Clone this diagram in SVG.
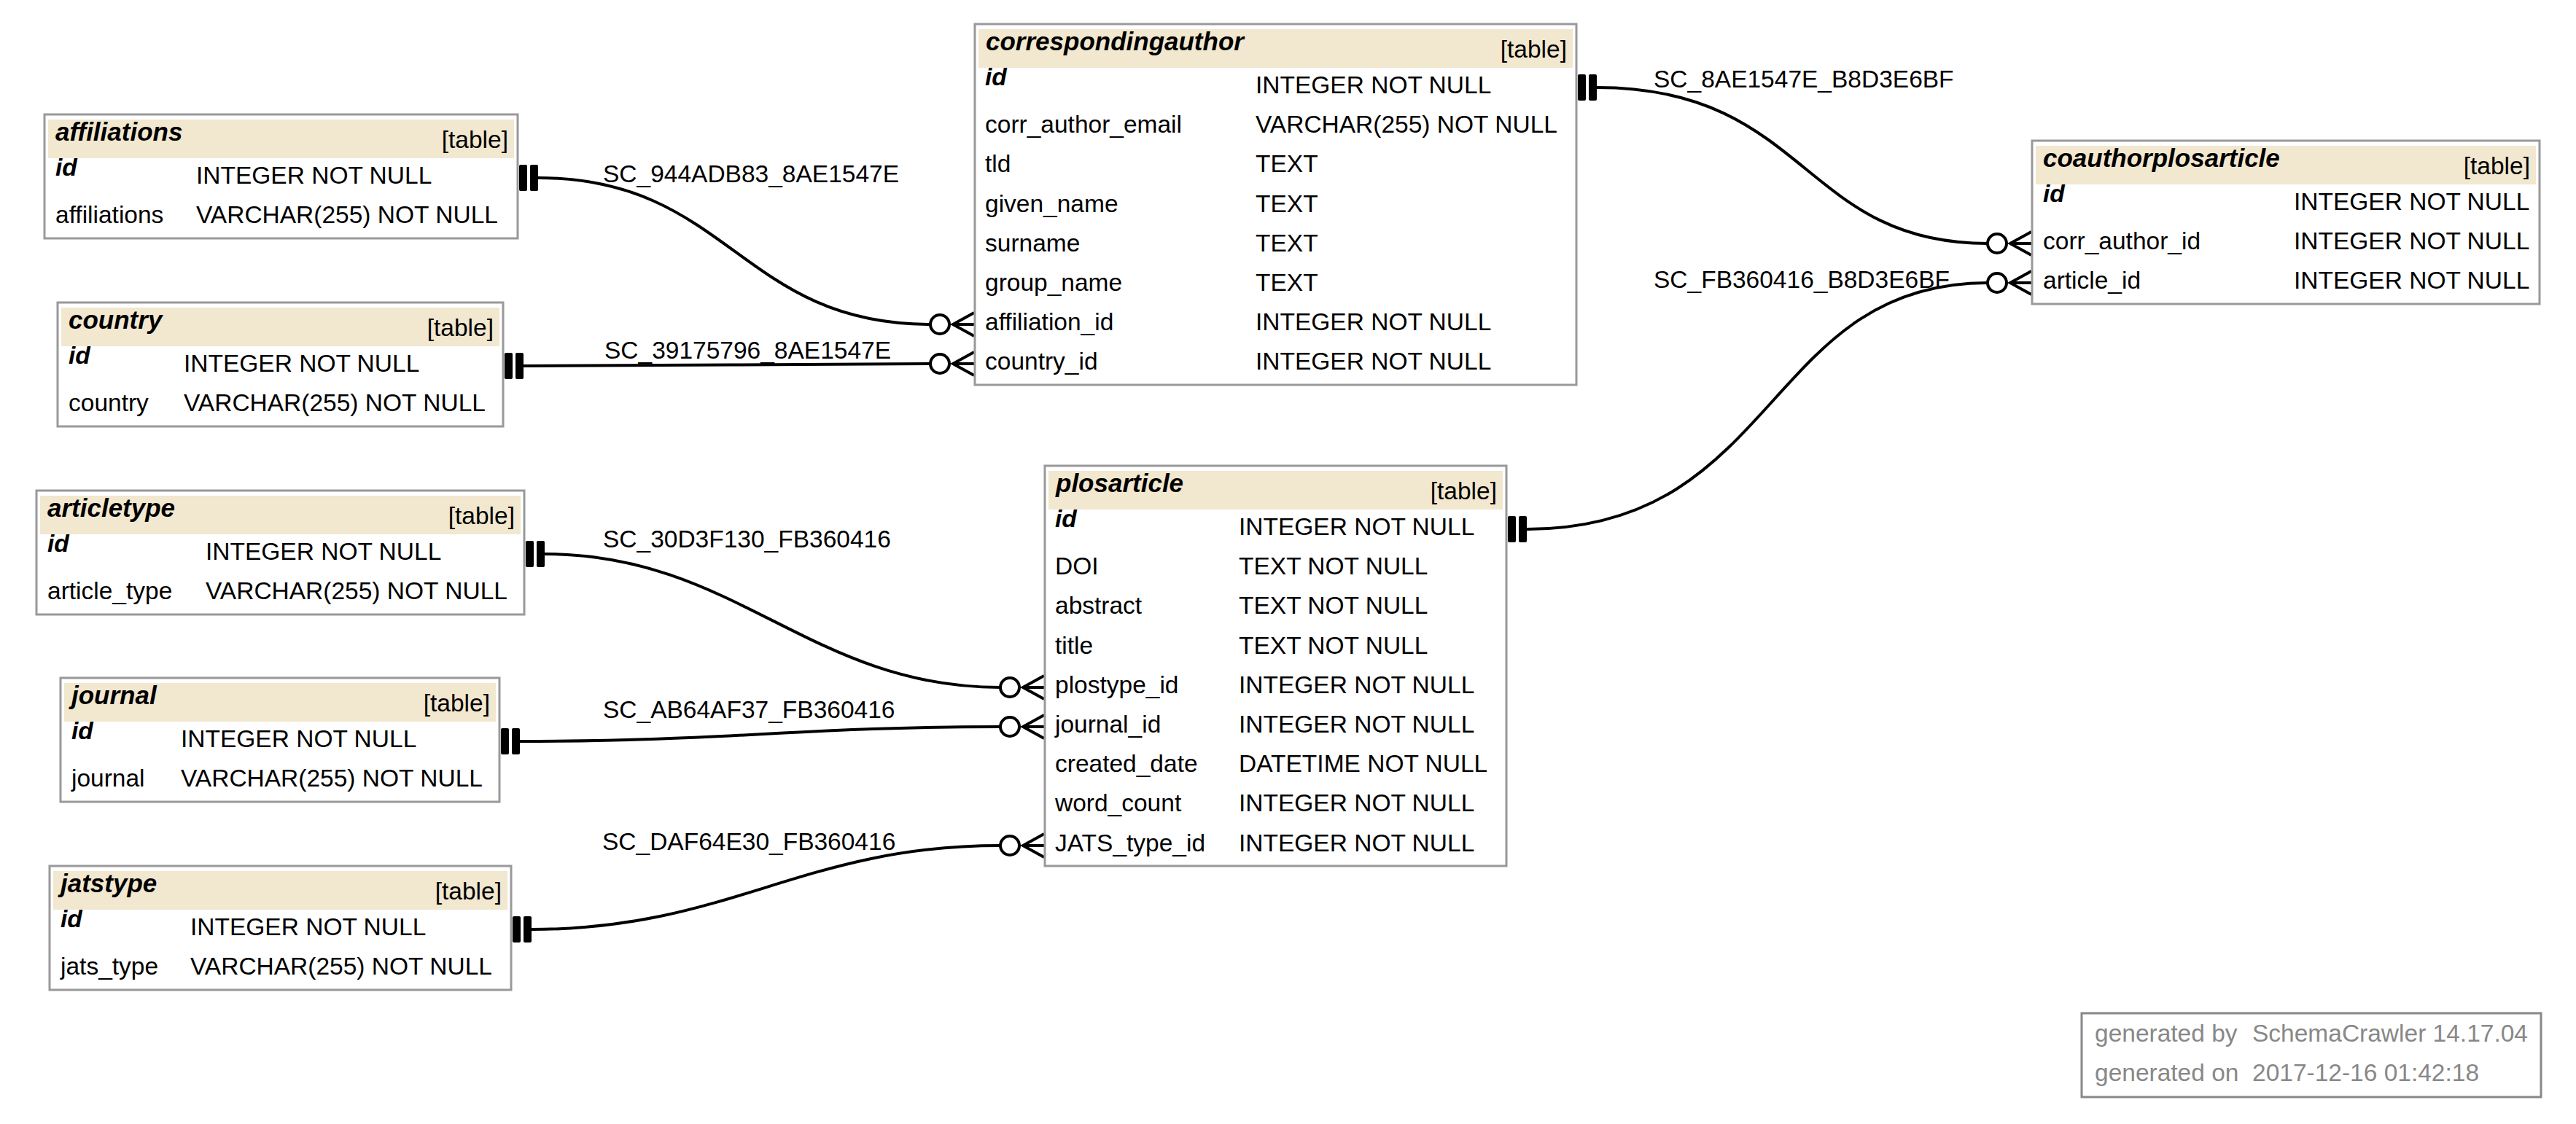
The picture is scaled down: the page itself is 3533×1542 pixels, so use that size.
<svg xmlns="http://www.w3.org/2000/svg" width="3533" height="1542" viewBox="0 0 3533 1542">
<style>
.bg{fill:#fff}
.box{fill:#fff;stroke:#999;stroke-width:3}
.hdr{fill:#F2E7CF}
text{font-family:"Liberation Sans",Arial,sans-serif;font-size:33.5px;fill:#000}
.b{font-weight:bold;font-style:italic}
.tt{font-size:35px}
.r{text-anchor:end}
.edge{fill:none;stroke:#000;stroke-width:4}
.bar{fill:#000}
.o{fill:#fff;stroke:#000;stroke-width:4}
.cf{fill:none;stroke:#000;stroke-width:4}
.foot{fill:#888}
.fbox{fill:#fff;stroke:#888;stroke-width:3}
</style>
<rect class="bg" x="0" y="0" width="3533" height="1542"/>

<g id="connectors">
  <g id="SC_944ADB83_8AE1547E">
    <path class="edge" d="M738,244 C1000,244 1015,445 1276,445"/>
    <rect class="bar" x="712" y="226" width="11" height="36" rx="2"/>
    <rect class="bar" x="727" y="226" width="11" height="36" rx="2"/>
    <circle class="o" cx="1289" cy="445" r="13"/>
    <path class="cf" d="M1336,429 L1307,445 L1336,461 M1307,445 L1336,445"/>
    <text x="827" y="250">SC_944ADB83_8AE1547E</text>
  </g>
  <g id="SC_39175796_8AE1547E">
    <path class="edge" d="M718,502 C1000,502 1000,499 1276,499"/>
    <rect class="bar" x="692" y="484" width="11" height="36" rx="2"/>
    <rect class="bar" x="707" y="484" width="11" height="36" rx="2"/>
    <circle class="o" cx="1289" cy="499" r="13"/>
    <path class="cf" d="M1336,483 L1307,499 L1336,515 M1307,499 L1336,499"/>
    <text x="829" y="492">SC_39175796_8AE1547E</text>
  </g>
  <g id="SC_30D3F130_FB360416">
    <path class="edge" d="M747,760 C1010,760 1110,943 1372,943"/>
    <rect class="bar" x="721" y="742" width="11" height="36" rx="2"/>
    <rect class="bar" x="736" y="742" width="11" height="36" rx="2"/>
    <circle class="o" cx="1385" cy="943" r="13"/>
    <path class="cf" d="M1432,927 L1403,943 L1432,959 M1403,943 L1432,943"/>
    <text x="827" y="751">SC_30D3F130_FB360416</text>
  </g>
  <g id="SC_AB64AF37_FB360416">
    <path class="edge" d="M713,1017 C1000,1017 1100,997 1372,997"/>
    <rect class="bar" x="687" y="999" width="11" height="36" rx="2"/>
    <rect class="bar" x="702" y="999" width="11" height="36" rx="2"/>
    <circle class="o" cx="1385" cy="997" r="13"/>
    <path class="cf" d="M1432,981 L1403,997 L1432,1013 M1403,997 L1432,997"/>
    <text x="827" y="985">SC_AB64AF37_FB360416</text>
  </g>
  <g id="SC_DAF64E30_FB360416">
    <path class="edge" d="M729,1275 C1000,1275 1100,1160 1372,1160"/>
    <rect class="bar" x="703" y="1257" width="11" height="36" rx="2"/>
    <rect class="bar" x="718" y="1257" width="11" height="36" rx="2"/>
    <circle class="o" cx="1385" cy="1160" r="13"/>
    <path class="cf" d="M1432,1144 L1403,1160 L1432,1176 M1403,1160 L1432,1160"/>
    <text x="826" y="1166">SC_DAF64E30_FB360416</text>
  </g>
  <g id="SC_8AE1547E_B8D3E6BF">
    <path class="edge" d="M2190,120 C2480,120 2470,334 2726,334"/>
    <rect class="bar" x="2164" y="102" width="11" height="36" rx="2"/>
    <rect class="bar" x="2179" y="102" width="11" height="36" rx="2"/>
    <circle class="o" cx="2739" cy="334" r="13"/>
    <path class="cf" d="M2786,318 L2757,334 L2786,350 M2757,334 L2786,334"/>
    <text x="2268" y="120">SC_8AE1547E_B8D3E6BF</text>
  </g>
  <g id="SC_FB360416_B8D3E6BF">
    <path class="edge" d="M2094,726 C2440,726 2420,388 2726,388"/>
    <rect class="bar" x="2068" y="708" width="11" height="36" rx="2"/>
    <rect class="bar" x="2083" y="708" width="11" height="36" rx="2"/>
    <circle class="o" cx="2739" cy="388" r="13"/>
    <path class="cf" d="M2786,372 L2757,388 L2786,404 M2757,388 L2786,388"/>
    <text x="2268" y="395">SC_FB360416_B8D3E6BF</text>
  </g>
</g>

<g id="affiliations">
  <rect class="box" x="61" y="157" width="649" height="170"/>
  <rect class="hdr" x="66" y="164" width="639" height="53"/>
  <text class="b tt" x="76" y="193">affiliations</text>
  <text class="r" x="697" y="203">[table]</text>
  <text class="b" x="76" y="241">id</text>
  <text x="269" y="252">INTEGER NOT NULL</text>
  <text x="76" y="306">affiliations</text>
  <text x="269" y="306">VARCHAR(255) NOT NULL</text>
</g>

<g id="country">
  <rect class="box" x="79" y="415" width="611" height="170"/>
  <rect class="hdr" x="84" y="422" width="601" height="53"/>
  <text class="b tt" x="94" y="451">country</text>
  <text class="r" x="677" y="461">[table]</text>
  <text class="b" x="94" y="499">id</text>
  <text x="252" y="510">INTEGER NOT NULL</text>
  <text x="94" y="564">country</text>
  <text x="252" y="564">VARCHAR(255) NOT NULL</text>
</g>

<g id="articletype">
  <rect class="box" x="50" y="673" width="669" height="170"/>
  <rect class="hdr" x="55" y="680" width="659" height="53"/>
  <text class="b tt" x="65" y="709">articletype</text>
  <text class="r" x="706" y="719">[table]</text>
  <text class="b" x="65" y="757">id</text>
  <text x="282" y="768">INTEGER NOT NULL</text>
  <text x="65" y="822">article_type</text>
  <text x="282" y="822">VARCHAR(255) NOT NULL</text>
</g>

<g id="journal">
  <rect class="box" x="83" y="930" width="602" height="170"/>
  <rect class="hdr" x="88" y="937" width="592" height="53"/>
  <text class="b tt" x="98" y="966">journal</text>
  <text class="r" x="672" y="976">[table]</text>
  <text class="b" x="98" y="1014">id</text>
  <text x="248" y="1025">INTEGER NOT NULL</text>
  <text x="98" y="1079">journal</text>
  <text x="248" y="1079">VARCHAR(255) NOT NULL</text>
</g>

<g id="jatstype">
  <rect class="box" x="68" y="1188" width="633" height="170"/>
  <rect class="hdr" x="73" y="1195" width="623" height="53"/>
  <text class="b tt" x="83" y="1224">jatstype</text>
  <text class="r" x="688" y="1234">[table]</text>
  <text class="b" x="83" y="1272">id</text>
  <text x="261" y="1283">INTEGER NOT NULL</text>
  <text x="83" y="1337">jats_type</text>
  <text x="261" y="1337">VARCHAR(255) NOT NULL</text>
</g>

<g id="correspondingauthor">
  <rect class="box" x="1337" y="33" width="825" height="495"/>
  <rect class="hdr" x="1342" y="40" width="815" height="53"/>
  <text class="b tt" x="1352" y="69">correspondingauthor</text>
  <text class="r" x="2149" y="79">[table]</text>
  <text class="b" x="1351" y="117">id</text>
  <text x="1722" y="128">INTEGER NOT NULL</text>
  <text x="1351" y="182">corr_author_email</text>
  <text x="1722" y="182">VARCHAR(255) NOT NULL</text>
  <text x="1351" y="236">tld</text>
  <text x="1722" y="236">TEXT</text>
  <text x="1351" y="291">given_name</text>
  <text x="1722" y="291">TEXT</text>
  <text x="1351" y="345">surname</text>
  <text x="1722" y="345">TEXT</text>
  <text x="1351" y="399">group_name</text>
  <text x="1722" y="399">TEXT</text>
  <text x="1351" y="453">affiliation_id</text>
  <text x="1722" y="453">INTEGER NOT NULL</text>
  <text x="1351" y="507">country_id</text>
  <text x="1722" y="507">INTEGER NOT NULL</text>
</g>

<g id="coauthorplosarticle">
  <rect class="box" x="2787" y="193" width="696" height="224"/>
  <rect class="hdr" x="2792" y="200" width="686" height="53"/>
  <text class="b tt" x="2802" y="229">coauthorplosarticle</text>
  <text class="r" x="3470" y="239">[table]</text>
  <text class="b" x="2802" y="277">id</text>
  <text x="3146" y="288">INTEGER NOT NULL</text>
  <text x="2802" y="342">corr_author_id</text>
  <text x="3146" y="342">INTEGER NOT NULL</text>
  <text x="2802" y="396">article_id</text>
  <text x="3146" y="396">INTEGER NOT NULL</text>
</g>

<g id="plosarticle">
  <rect class="box" x="1433" y="639" width="633" height="549"/>
  <rect class="hdr" x="1438" y="646" width="623" height="53"/>
  <text class="b tt" x="1448" y="675">plosarticle</text>
  <text class="r" x="2053" y="685">[table]</text>
  <text class="b" x="1447" y="723">id</text>
  <text x="1699" y="734">INTEGER NOT NULL</text>
  <text x="1447" y="788">DOI</text>
  <text x="1699" y="788">TEXT NOT NULL</text>
  <text x="1447" y="842">abstract</text>
  <text x="1699" y="842">TEXT NOT NULL</text>
  <text x="1447" y="897">title</text>
  <text x="1699" y="897">TEXT NOT NULL</text>
  <text x="1447" y="951">plostype_id</text>
  <text x="1699" y="951">INTEGER NOT NULL</text>
  <text x="1447" y="1005">journal_id</text>
  <text x="1699" y="1005">INTEGER NOT NULL</text>
  <text x="1447" y="1059">created_date</text>
  <text x="1699" y="1059">DATETIME NOT NULL</text>
  <text x="1447" y="1113">word_count</text>
  <text x="1699" y="1113">INTEGER NOT NULL</text>
  <text x="1447" y="1168">JATS_type_id</text>
  <text x="1699" y="1168">INTEGER NOT NULL</text>
</g>

<g id="footer">
  <rect class="fbox" x="2855" y="1390" width="630" height="115"/>
  <text class="foot" x="2873" y="1429">generated by</text>
  <text class="foot" x="3089" y="1429">SchemaCrawler 14.17.04</text>
  <text class="foot" x="2873" y="1483">generated on</text>
  <text class="foot" x="3089" y="1483">2017-12-16 01:42:18</text>
</g>
</svg>
